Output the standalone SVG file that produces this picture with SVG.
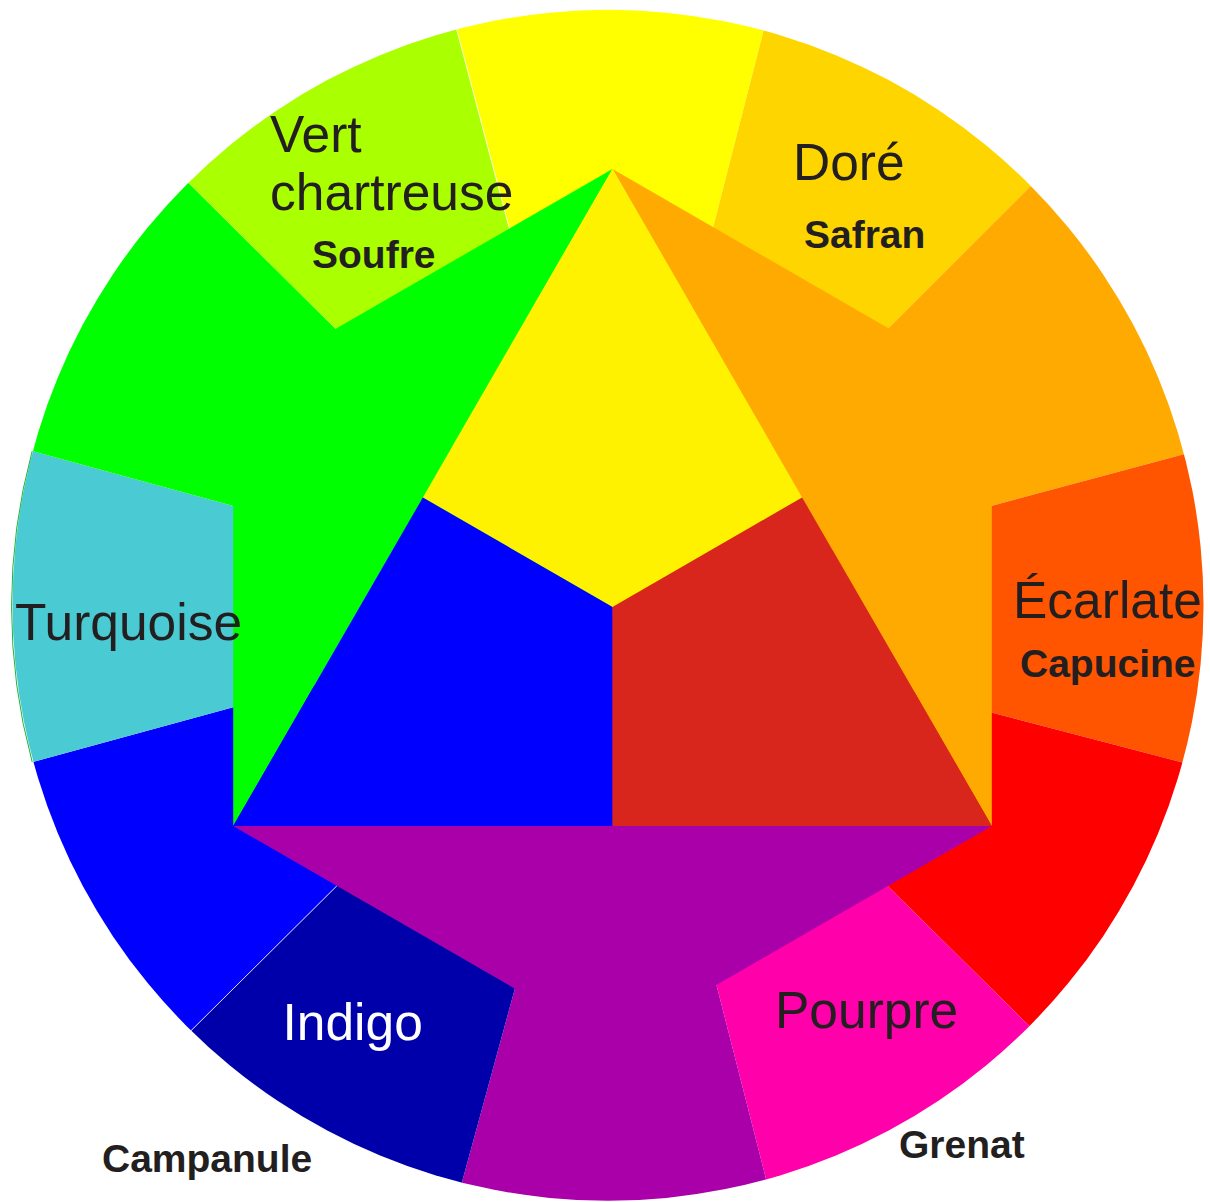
<svg xmlns="http://www.w3.org/2000/svg" width="1210" height="1202" viewBox="0 0 1210 1202">
  <style>
    .lbl { font-family: "Liberation Sans", Arial, Helvetica, sans-serif; font-size: 51.5px; fill: #231F20; }
    .sub { font-family: "Liberation Sans", Arial, Helvetica, sans-serif; font-size: 39px; font-weight: bold; fill: #231F20; }
    .seam { stroke: #FFFFFF; stroke-width: 0.8; fill: none; }
  </style>
  <defs>
    <clipPath id="disc">
      <circle cx="608" cy="605.3" r="595.5"/>
    </clipPath>
  </defs>
  <rect width="1210" height="1202" fill="#FFFFFF"/>
  <g id="ring" clip-path="url(#disc)">
    <path id="s-jaune" d="M612.5,607 L524.6,286.3 L304.8,-545.3 L912,-548.3 L698.4,284.8 Z" fill="#FFFF00"/>
    <path id="s-dore" d="M612.5,607 L698.4,284.8 L912,-548.3 L1454.2,-237.2 L845.9,370.7 Z" fill="#FFD500"/>
    <path id="s-orange" d="M612.5,607 L845.9,370.7 L1454.2,-237.2 L1764.8,297.8 L934.4,521.3 Z" fill="#FFAA00"/>
    <path id="s-ecarlate" d="M612.5,607 L934.4,521.3 L1764.8,297.8 L1766.1,915.3 L934.3,697.5 Z" fill="#FF5500"/>
    <path id="s-rouge" d="M612.5,607 L934.3,697.5 L1766.1,915.3 L1457.3,1448.9 L845.6,844.5 Z" fill="#FF0000"/>
    <path id="s-pourpre" d="M612.5,607 L845.6,844.5 L1457.3,1448.9 L914.7,1761 L701.9,927.9 Z" fill="#FF00AA"/>
    <path id="s-violet" d="M612.5,607 L701.9,927.9 L914.7,1761 L304.1,1759.8 L530.8,930.4 Z" fill="#AA00AA"/>
    <path id="s-indigo" d="M612.5,607 L530.8,930.4 L304.1,1759.8 L-230.8,1449.7 L379.3,843.7 Z" fill="#0000AA"/>
    <path id="s-bleu" d="M612.5,607 L379.3,843.7 L-230.8,1449.7 L-538.4,917.9 L291.2,691.5 Z" fill="#0000FF"/>
    <path id="s-turquoise" d="M612.5,607 L291.2,691.5 L-538.4,917.9 L-538.4,295.4 L291.2,521.8 Z" fill="#4ACBD3"/>
    <path id="s-vert" d="M612.5,607 L291.2,521.8 L-538.4,295.4 L-232.1,-234.5 L378.3,371.3 Z" fill="#00FF00"/>
    <path id="s-chartreuse" d="M612.5,607 L378.3,371.3 L-232.1,-234.5 L304.8,-545.3 L524.6,286.3 Z" fill="#AAFF00"/>
  </g>
  <path id="turquoise-edge" d="M32.2,451 A595.5,595.5 0 0 0 32.2,762" fill="none" stroke="#22B33A" stroke-width="1"/>
  <g id="hexagon">
    <path id="t-vert" d="M612.5,169 L233.2,388 L233.2,826 Z" fill="#00FF00"/>
    <path id="t-orange" d="M612.5,169 L991.8,388 L991.8,826 Z" fill="#FFAA00"/>
    <path id="t-violet" d="M233.2,826 L612.5,1045 L991.8,826 Z" fill="#AA00AA"/>
    <path id="k-jaune" d="M612.5,169 L802.15,497.5 L612.5,607 L422.85,497.5 Z" fill="#FFF200"/>
    <path id="k-bleu" d="M233.2,826 L422.85,497.5 L612.5,607 L612.5,826 Z" fill="#0000FF"/>
    <path id="k-rouge" d="M991.8,826 L802.15,497.5 L612.5,607 L612.5,826 Z" fill="#D9261C"/>
  </g>
  <g id="seams">
    <line class="seam" x1="509.3" y1="228.3" x2="456.2" y2="27.5"/>
    <line class="seam" x1="336.7" y1="886" x2="189.5" y2="1032.2"/>
  </g>
  <g id="labels">
    <g id="lbl-chartreuse">
      <text class="lbl" x="270" y="152">Vert</text>
      <text class="lbl" x="270" y="210">chartreuse</text>
      <text class="sub" x="312" y="268">Soufre</text>
    </g>
    <g id="lbl-dore">
      <text class="lbl" x="793" y="180">Doré</text>
      <text class="sub" x="804" y="248">Safran</text>
    </g>
    <g id="lbl-ecarlate">
      <text class="lbl" x="1013" y="618">Écarlate</text>
      <text class="sub" x="1020" y="677">Capucine</text>
    </g>
    <g id="lbl-turquoise">
      <text class="lbl" x="15" y="640">Turquoise</text>
    </g>
    <g id="lbl-indigo">
      <text class="lbl" x="282.5" y="1040" style="fill:#FFFFFF">Indigo</text>
      <text class="sub" x="102" y="1172">Campanule</text>
    </g>
    <g id="lbl-pourpre">
      <text class="lbl" x="775" y="1028">Pourpre</text>
      <text class="sub" x="899" y="1158">Grenat</text>
    </g>
  </g>
</svg>
